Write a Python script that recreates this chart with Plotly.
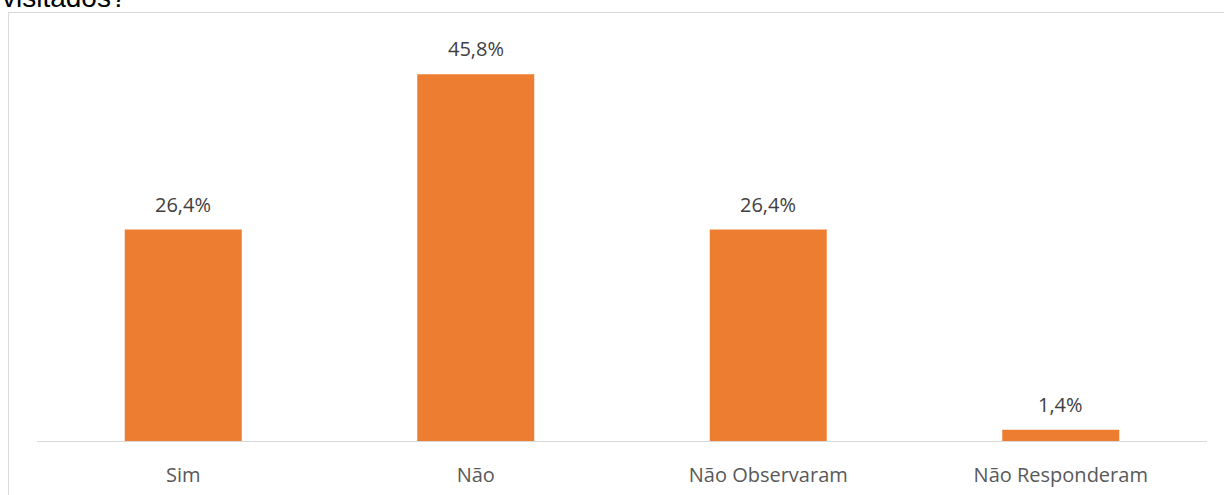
import plotly.graph_objects as go

categories = ["Sim", "Não", "Não Observaram", "Não Responderam"]
values = [26.4, 45.8, 26.4, 1.4]
labels = ["26,4%", "45,8%", "26,4%", "1,4%"]

W, H = 1224, 495
L, R, T, B = 37, 17, 20, 54
pw = W - L - R
ph = H - T - B

FONT = "Open Sans, Liberation Sans, sans-serif"

fig = go.Figure()
fig.add_trace(go.Bar(x=categories, y=values, marker=dict(color="#ED7D31", line=dict(width=0)),
                     width=0.4, hoverinfo="skip"))

for c, v, t in zip(categories, values, labels):
    fig.add_annotation(x=c, y=v, text=t, showarrow=False, yanchor="bottom", yshift=10,
                       font=dict(family=FONT, size=20, color="#404040"))

def px_x(p):
    return (p - L) / pw

def px_y(p):
    return (H - B - p) / ph

fig.add_shape(type="rect", xref="paper", yref="paper",
              x0=px_x(8.5), x1=px_x(1240), y0=px_y(12.5), y1=px_y(510),
              line=dict(color="#d9d9d9", width=1), fillcolor="rgba(0,0,0,0)", layer="below")

fig.add_annotation(xref="paper", yref="paper", x=px_x(0), y=px_y(15), xanchor="left", yanchor="bottom",
                   text="visitados?", showarrow=False,
                   font=dict(family="Liberation Sans, Arial, sans-serif", size=28, color="#000000"))

fig.update_layout(
    width=W, height=H,
    margin=dict(l=L, r=R, t=T, b=B, autoexpand=False),
    paper_bgcolor="white", plot_bgcolor="white",
    showlegend=False, bargap=0.6,
    xaxis=dict(showline=True, linecolor="#d9d9d9", linewidth=1, ticks="", showgrid=False,
               automargin=False, ticklabelstandoff=16,
               tickfont=dict(family=FONT, size=20, color="#595959")),
    yaxis=dict(range=[0, ph / 8.01], visible=False, showgrid=False, zeroline=False, automargin=False),
)

fig.write_html("out.html", config={"displayModeBar": False},
               post_script="document.body.style.margin='0';document.body.style.overflow='hidden';")
